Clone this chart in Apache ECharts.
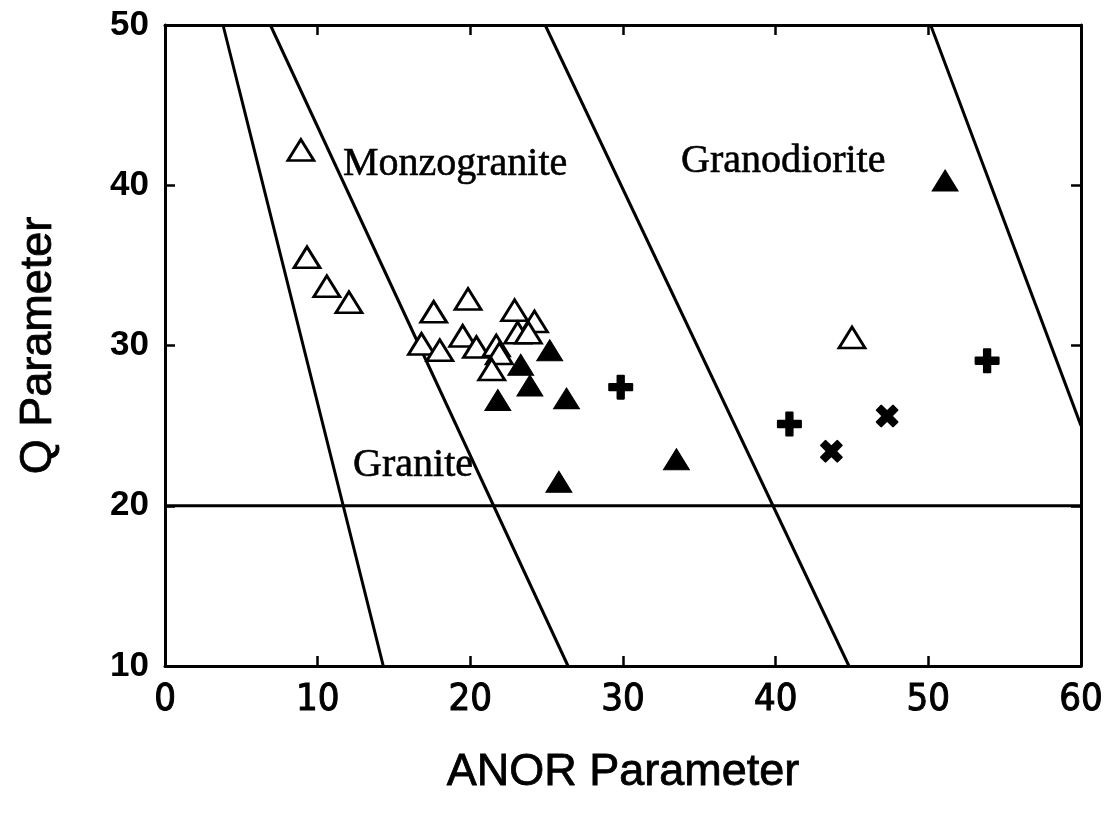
<!DOCTYPE html>
<html>
<head>
<meta charset="utf-8">
<script src="https://cdn.jsdelivr.net/npm/echarts@6/dist/echarts.min.js"></script>
<style>
html,body{margin:0;padding:0;background:#fff;}
#chart{width:1109px;height:825px;}
</style>
</head>
<body>
<div id="chart"></div>
<script>
// ---- data ----
var xTicks = [0, 10, 20, 30, 40, 50, 60];
var yTicks = [10, 20, 30, 40, 50];

var openTriX = [8.9, 9.3, 10.6, 12.05, 17.6, 19.85, 16.8, 18.0, 19.5, 20.4, 21.7, 21.9, 21.4, 22.9, 24.2, 23.1, 23.8, 45.0];
var openTriY = [42.2, 35.5, 33.7, 32.7, 32.1, 32.9, 30.1, 29.7, 30.6, 29.9, 30.0, 29.5, 28.5, 32.2, 31.5, 30.8, 30.8, 30.5];

var filledTriX = [25.2, 23.3, 23.9, 21.8, 26.3, 25.8, 33.5, 51.1];
var filledTriY = [29.7, 28.8, 27.5, 26.6, 26.7, 21.5, 22.9, 40.3];

var plusX = [29.85, 40.9, 53.85];
var plusY = [27.4, 25.1, 29.05];

var crossX = [43.65, 47.3];
var crossY = [23.4, 25.6];

// field boundary lines: [x, y] end points
var boundary1 = [[3.8, 50], [14.3, 10]];
var boundary2 = [[6.9, 50], [26.4, 10]];
var boundary3 = [[24.9, 50], [44.8, 10]];
var boundary4 = [[50.15, 50], [60, 25]];
var boundaryQ20 = [[0, 20], [60, 20]];

var fieldNames = ['Monzogranite', 'Granodiorite', 'Granite'];
var fieldX = [19.0, 40.5, 16.25];
var fieldY = [41.3, 41.5, 22.5];

// ---- build ----
function zip(xs, ys) { return xs.map(function (x, i) { return [x, ys[i]]; }); }

var plusPath = 'path://M8,1Q8,0 9,0H15Q16,0 16,1V8H23Q24,8 24,9V15Q24,16 23,16H16V23Q16,24 15,24H9Q8,24 8,23V16H1Q0,16 0,15V9Q0,8 1,8H8Z';

var black = '#000';
var axisCommon = {
  type: 'value',
  splitLine: { show: false },
  axisLine: { show: true, onZero: false, lineStyle: { color: black, width: 3 } },
  axisTick: { show: true, inside: true, length: 10, lineStyle: { color: black, width: 2.5 } }
};

function lineSeries(pts) {
  return {
    type: 'line', data: pts, symbol: 'none', silent: true, z: 1,
    lineStyle: { color: black, width: 3 }, animation: false
  };
}

var chart = echarts.init(document.getElementById('chart'), null, { renderer: 'canvas' });
chart.setOption({
  animation: false,
  backgroundColor: '#fff',
  grid: { left: 165, right: 28, top: 25, bottom: 159, containLabel: false },
  xAxis: [
    Object.assign({}, axisCommon, {
      position: 'bottom', min: xTicks[0], max: xTicks[xTicks.length - 1], interval: 10,
      name: 'ANOR Parameter', nameLocation: 'middle', nameGap: 84,
      nameTextStyle: { color: black, fontSize: 45, fontFamily: 'Liberation Sans, Arial, sans-serif',
        textBorderColor: black, textBorderWidth: 0.8 },
      axisLabel: { color: black, fontSize: 38, margin: 15,
        textBorderColor: black, textBorderWidth: 1,
        fontFamily: "'Liberation Sans Narrow', 'DejaVu Sans Condensed', 'Liberation Sans', sans-serif" }
    }),
    Object.assign({}, axisCommon, {
      position: 'top', min: xTicks[0], max: xTicks[xTicks.length - 1], interval: 10,
      axisLabel: { show: false }
    })
  ],
  yAxis: [
    Object.assign({}, axisCommon, {
      position: 'left', min: yTicks[0], max: yTicks[yTicks.length - 1], interval: 10,
      name: 'Q Parameter', nameLocation: 'middle', nameGap: 104, nameRotate: 90,
      nameTextStyle: { color: black, fontSize: 45, fontFamily: 'Liberation Sans, Arial, sans-serif',
        textBorderColor: black, textBorderWidth: 0.8 },
      axisLabel: { color: black, fontSize: 35, fontWeight: 'bold', margin: 16,
        fontFamily: 'Liberation Sans, Arial, sans-serif' }
    }),
    Object.assign({}, axisCommon, {
      position: 'right', min: yTicks[0], max: yTicks[yTicks.length - 1], interval: 10,
      axisLabel: { show: false }
    })
  ],
  series: [
    lineSeries(boundary1),
    lineSeries(boundary2),
    lineSeries(boundary3),
    lineSeries(boundary4),
    lineSeries(boundaryQ20),
    {
      type: 'scatter', data: zip(openTriX, openTriY), symbol: 'triangle', symbolSize: [26, 21], z: 3,
      itemStyle: { color: '#fff', borderColor: black, borderWidth: 2.8, opacity: 1 }
    },
    {
      type: 'scatter', data: zip(filledTriX, filledTriY), symbol: 'triangle', symbolSize: [26, 21], z: 4,
      itemStyle: { color: black, borderColor: black, borderWidth: 1, opacity: 1 }
    },
    {
      type: 'scatter', data: zip(plusX, plusY), symbol: plusPath, symbolSize: 25, z: 4,
      itemStyle: { color: black, opacity: 1 }
    },
    {
      type: 'scatter', data: zip(crossX, crossY), symbol: plusPath, symbolSize: 25, symbolRotate: 45, z: 4,
      itemStyle: { color: black, opacity: 1 }
    },
    {
      type: 'scatter', silent: true, z: 5, symbolSize: 1,
      itemStyle: { color: 'rgba(0,0,0,0)' },
      data: fieldNames.map(function (n, i) { return { name: n, value: [fieldX[i], fieldY[i]] }; }),
      label: {
        show: true, position: 'inside', formatter: '{b}', color: '#000', opacity: 1,
        textBorderColor: '#000', textBorderWidth: 0.6,
        fontSize: 40, fontFamily: "'Liberation Serif', 'Times New Roman', serif"
      }
    }
  ]
});
</script>
</body>
</html>
